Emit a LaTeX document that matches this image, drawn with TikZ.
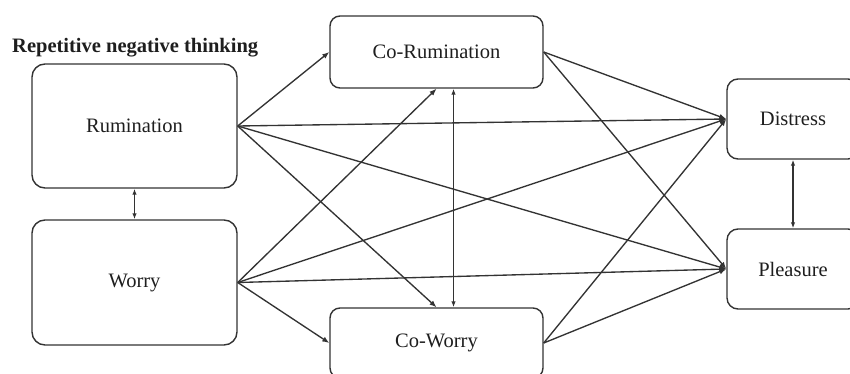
\documentclass[tikz,border=0pt]{standalone}
\usepackage{fontspec}
\setmainfont{Liberation Serif}
\usetikzlibrary{arrows.meta}
\definecolor{ink}{HTML}{333333}
\definecolor{txt}{HTML}{1E1E1E}
\begin{document}
\begin{tikzpicture}[x=1pt,y=-1pt,
  box/.style={draw=ink, line width=1.4pt, rounded corners=13pt, inner sep=0pt,
    text=txt, font=\fontsize{20.5}{24}\selectfont},
  path/.style={draw=ink, line width=1.35pt, -{Latex[length=7pt,width=5.5pt]}},
  both/.style={draw=ink, line width=1.35pt, {Latex[length=6pt,width=4.5pt]}-{Latex[length=6pt,width=4.5pt]}}]
\useasboundingbox (0,0) rectangle (850,374);
\clip (0,0) rectangle (850,374);

% title of the left-hand group
\node[anchor=west, text=txt, font=\fontsize{20.5}{24}\selectfont\bfseries, inner sep=0pt]
  (title) at (12,48) {Repetitive negative thinking};

% predictors
\node[box, minimum width=205pt, minimum height=124pt] (rum) at (134.5,126) {Rumination};
\node[box, minimum width=205pt, minimum height=125pt] (wor) at (134.5,282.5) {Worry};

% mediators
\node[box, rounded corners=10pt, minimum width=213pt, minimum height=72pt] (corum) at (436.5,52) {Co-Rumination};
\node[box, rounded corners=10pt, minimum width=213pt, minimum height=70pt] (cowor) at (436.5,343) {Co-Worry};

% outcomes
\node[box, rounded corners=11pt, minimum width=132pt, minimum height=80pt] (dis) at (793,119) {Distress};
\node[box, rounded corners=11pt, minimum width=132pt, minimum height=80pt] (ple) at (793,269) {Pleasure};

% directed paths
\draw[path] (rum.east) -- (corum.west);
\draw[path] (rum.east) -- (cowor.north);
\draw[path] (rum.east) -- (dis.west);
\draw[path] (rum.east) -- (ple.west);
\draw[path] (wor.east) -- (corum.south);
\draw[path] (wor.east) -- (cowor.west);
\draw[path] (wor.east) -- (dis.west);
\draw[path] (wor.east) -- (ple.west);
\draw[path] (corum.east) -- (dis.west);
\draw[path] (corum.east) -- (ple.west);
\draw[path] (cowor.east) -- (dis.west);
\draw[path] (cowor.east) -- (ple.west);

% covariances
\draw[both] (rum.south) -- (wor.north);
\draw[both] ([xshift=17pt]corum.south) -- ([xshift=17pt]cowor.north);
\draw[both] (dis.south) -- (ple.north);
\end{tikzpicture}
\end{document}
